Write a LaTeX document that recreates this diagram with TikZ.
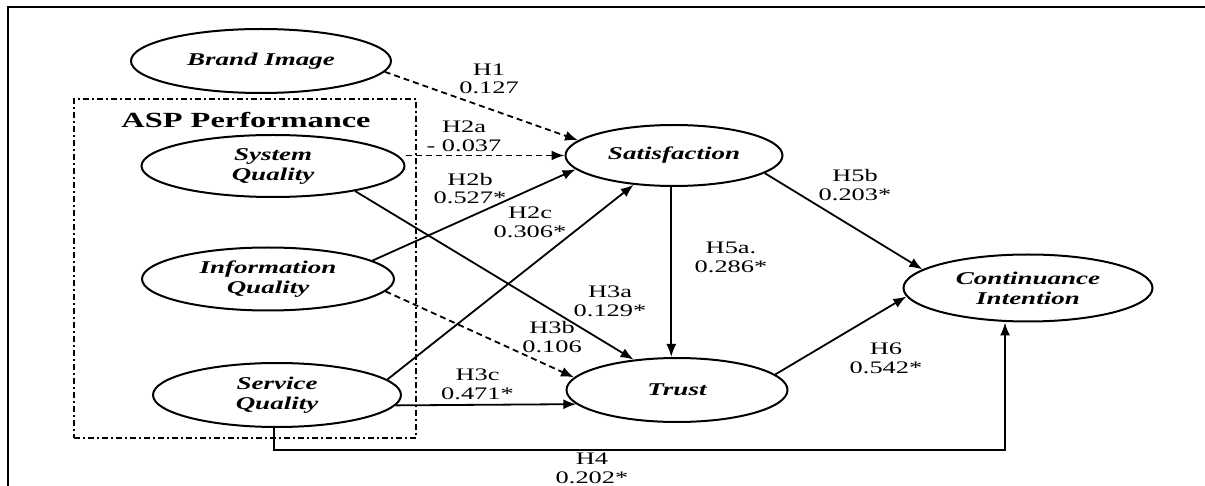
\documentclass[tikz,border=0pt]{standalone}
\usepackage{fontspec}
\setmainfont{Liberation Serif}[FakeStretch=1.5]
\usetikzlibrary{shapes.geometric,arrows.meta}

\begin{document}
\begin{tikzpicture}[x=0.5pt, y=-0.5pt, every node/.style={align=center}]
    % styles
    \tikzstyle{construct} = [ellipse, draw, line width=1pt, inner sep=0pt, font=\fontsize{9}{10}\selectfont\bfseries\itshape]
    \tikzstyle{coef} = [inner sep=0pt, font=\fontsize{8.8}{9.3}\selectfont]
    \tikzstyle{link} = [line width=0.9pt, -{Latex[length=6.5pt,width=5pt]}]
    \tikzstyle{weak} = [link, dash pattern=on 3pt off 2pt]

    \useasboundingbox (0,0) rectangle (1205,486);

    % page frame
    \draw[line width=1pt] (8,486) -- (8,7) -- (1205,7);

    % ASP Performance group
    \node[draw, line width=0.9pt, dash pattern=on 3pt off 1.6pt on 0.8pt off 1.6pt,
          minimum width=171pt, minimum height=169.5pt, inner sep=0pt] (asp) at (245,268.5) {};
    \node[inner sep=0pt, font=\fontsize{10.8}{12}\selectfont\bfseries] (asptitle) at (246,120) {ASP Performance};

    % constructs
    \node[construct, minimum width=130pt, minimum height=32pt] (brand) at (261,61) {Brand Image};
    \node[construct, minimum width=131.5pt, minimum height=31pt] (system) at (273,166) {System\\Quality};
    \node[construct, minimum width=126pt, minimum height=31.5pt] (info) at (268,279) {Information\\Quality};
    \node[construct, minimum width=124pt, minimum height=32pt] (service) at (277,395) {Service\\Quality};
    \node[construct, minimum width=108.5pt, minimum height=30.5pt] (sat) at (674,155.5) {Satisfaction};
    \node[construct, minimum width=110.5pt, minimum height=32pt] (trust) at (677,390) {Trust};
    \node[construct, minimum width=124.5pt, minimum height=33.5pt] (cont) at (1028,288) {Continuance\\Intention};
    \coordinate (h4corner) at (1005,450);

    % paths
    \draw[weak] (brand.-5) -- (sat.171);
    \draw[weak] (system.east |- sat.west) -- (sat.west);
    \draw[link] (info.10) -- (sat.188);
    \draw[link] (service.8) -- (sat.216);
    \draw[link] (system.-17) -- (trust.145);
    \draw[weak] (info.-6) -- (trust.173);
    \draw[link] (service.-5) -- (trust.188);
    \draw[link] (service.265) |- (h4corner) -- (h4corner |- cont.south);
    \draw[link] (sat.265) -- (sat.265 |- trust.north);
    \draw[link] (sat.-11) -- (cont.170);
    \draw[link] (trust.9) -- (cont.184);

    % coefficients
    \node[coef] (lh1) at (489,79) {H1\\0.127};
    \node[coef] (lh2a) at (464,136.5) {H2a\\- 0.037};
    \node[coef] (lh2b) at (470,188.5) {H2b\\0.527*};
    \node[coef] (lh2c) at (530,222.5) {H2c\\0.306*};
    \node[coef] (lh3a) at (610,301) {H3a\\0.129*};
    \node[coef] (lh3b) at (552,337) {H3b\\0.106};
    \node[coef] (lh3c) at (477.5,384.5) {H3c\\0.471*};
    \node[coef] (lh4) at (592,468.5) {H4\\0.202*};
    \node[coef] (lh5a) at (731,257.5) {H5a.\\0.286*};
    \node[coef] (lh5b) at (855,185) {H5b\\0.203*};
    \node[coef] (lh6) at (886,358.5) {H6\\0.542*};
\end{tikzpicture}
\end{document}
